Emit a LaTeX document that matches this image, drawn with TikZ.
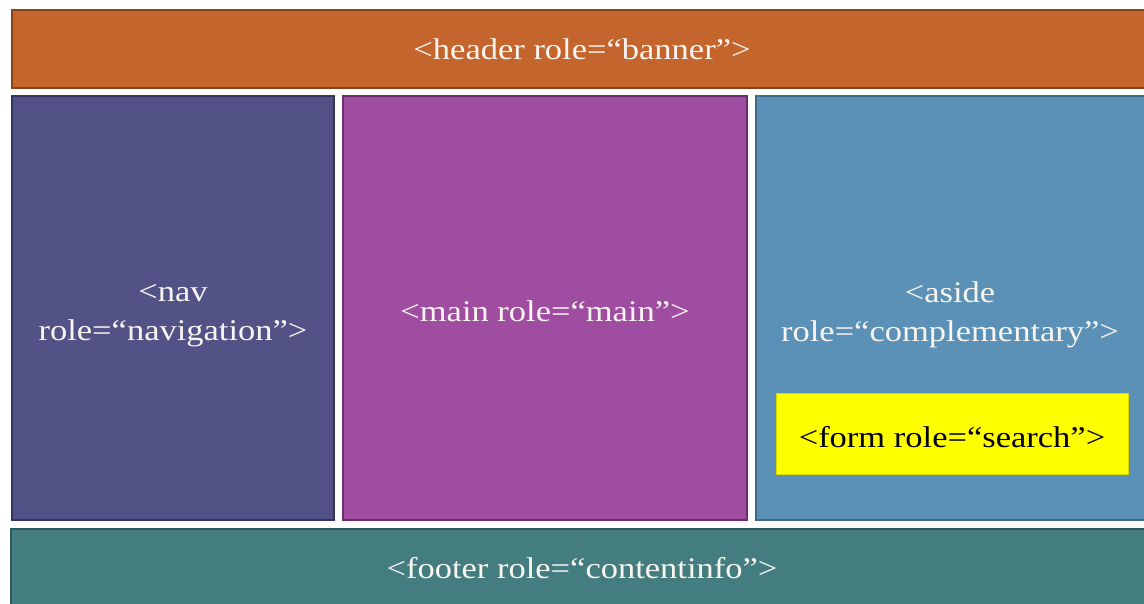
\documentclass[tikz,border=0pt]{standalone}
\usepackage{fontspec}
\setmainfont{Liberation Serif}[FakeStretch=1.15]
\definecolor{bannerfill}{HTML}{C4652D}
\definecolor{bannerline}{HTML}{8A4219}
\definecolor{navfill}{HTML}{535287}
\definecolor{navline}{HTML}{35345E}
\definecolor{mainfill}{HTML}{9E4DA0}
\definecolor{mainline}{HTML}{6C2D6E}
\definecolor{asidefill}{HTML}{5B91B6}
\definecolor{asideline}{HTML}{3D6A88}
\definecolor{footerfill}{HTML}{437D80}
\definecolor{footerline}{HTML}{2C5A5C}
\definecolor{searchfill}{HTML}{FFFF00}
\definecolor{labeltext}{HTML}{F8F4F0}
\tikzset{
  region/.style={rectangle, inner sep=0pt, line width=1.4pt, text=labeltext,
    align=center, font=\fontsize{30}{39}\selectfont},
}
\begin{document}
\begin{tikzpicture}[x=1pt, y=-1pt]
  \useasboundingbox[fill=white] (0,0) rectangle (1144,604);
  \node[region, fill=bannerfill, draw=bannerline, minimum width=1140pt, minimum height=78pt]
    (header) at (582,49) {<header role=“banner”>};
  \node[region, fill=navfill, draw=navline, minimum width=322pt, minimum height=424pt]
    (nav) at (173,308) {};
  \node[region] (navtext) at (173,316) {<nav\\role=“navigation”>};
  \node[region, fill=mainfill, draw=mainline, minimum width=404pt, minimum height=424pt]
    (main) at (545,308) {};
  \node[region] (maintext) at (545,311) {<main role=“main”>};
  \node[region, fill=asidefill, draw=asideline, minimum width=392pt, minimum height=424pt]
    (aside) at (952,308) {};
  \node[region] (asidetext) at (950,315) {<aside\\role=“complementary”>};
  \node[region, fill=searchfill, draw=searchfill!85!black, line width=0.5pt,
    minimum width=352pt, minimum height=81pt]
    (form) at (952,433.5) {};
  \node[region, text=black] (formtext) at (952,437) {<form role=“search”>};
  \node[region, fill=footerfill, draw=footerline, minimum width=1142pt, minimum height=78pt]
    (footer) at (582,568) {<footer role=“contentinfo”>};
\end{tikzpicture}
\end{document}
